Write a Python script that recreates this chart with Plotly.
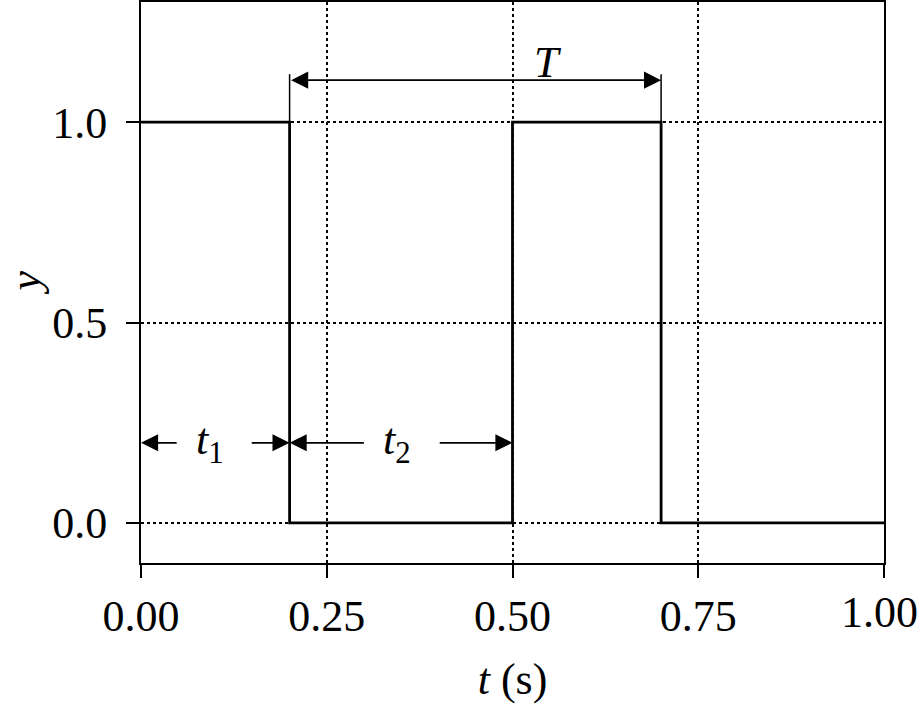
import plotly.graph_objects as go

# Data
t_vals = [0.0, 0.2, 0.2, 0.5, 0.5, 0.7, 0.7, 1.0]
y_vals = [1.0, 1.0, 0.0, 0.0, 1.0, 1.0, 0.0, 0.0]
x_ticks = [0.0, 0.25, 0.5, 0.75, 1.0]
x_tick_labels = ["0.00", "0.25", "0.50", "0.75", "1.00"]
y_ticks = [0.0, 0.5, 1.0]
y_tick_labels = ["0.0", "0.5", "1.0"]
t1_span = [0.0, 0.2]
t2_span = [0.2, 0.5]
T_span = [0.2, 0.7]
t_arrow_y = 0.2
T_arrow_y = 1.105
T_ext_top = 1.12

FONT = "Liberation Serif"
FS = 44

fig = go.Figure()
fig.add_trace(go.Scatter(x=t_vals, y=y_vals, mode="lines",
                         line=dict(color="black", width=2.8), showlegend=False,
                         hoverinfo="skip"))
# extension lines for T
for xe in T_span:
    fig.add_trace(go.Scatter(x=[xe, xe], y=[1.0, T_ext_top], mode="lines",
                             line=dict(color="black", width=1.5), showlegend=False,
                             hoverinfo="skip"))

ann = []
def arrow(x_head, x_tail, y, side="end"):
    ann.append(dict(x=x_head, y=y, ax=x_tail, ay=y, xref="x", yref="y",
                    axref="x", ayref="y", text="", showarrow=True,
                    arrowhead=2, arrowsize=1.9, arrowwidth=1.8, arrowcolor="black",
                    arrowside=side, standoff=0, startstandoff=0))

# t1 arrows (with gap for label)
arrow(t1_span[0], 0.05, t_arrow_y)
arrow(t1_span[1], 0.147, t_arrow_y)
# t2 arrows
arrow(t2_span[0], 0.302, t_arrow_y)
arrow(t2_span[1], 0.40, t_arrow_y)
# T double arrow
arrow(T_span[1], T_span[0], T_arrow_y, side="end+start")

ann.append(dict(x=0.093, y=t_arrow_y, xref="x", yref="y", showarrow=False,
                text="<i>t</i><sub>1</sub>", font=dict(family=FONT, size=FS, color="black")))
ann.append(dict(x=0.345, y=t_arrow_y, xref="x", yref="y", showarrow=False,
                text="<i>t</i><sub>2</sub>", font=dict(family=FONT, size=FS, color="black")))
ann.append(dict(x=0.548, y=1.15, xref="x", yref="y", showarrow=False,
                text="<i>T</i>", font=dict(family=FONT, size=FS, color="black")))

# last x tick label drawn as annotation so it stays inside the canvas
shown_x_labels = x_tick_labels[:-1] + [""]
ann.append(dict(x=x_ticks[-1], y=0, xref="x", yref="paper", yanchor="top",
                xanchor="center", xshift=-5, yshift=-23, showarrow=False,
                text=x_tick_labels[-1], font=dict(family=FONT, size=FS, color="black")))
# y axis title
ann.append(dict(x=0, y=0.5, xref="paper", yref="paper", xanchor="center",
                yanchor="middle", xshift=-116, showarrow=False, textangle=-90,
                text="<i>y</i>", font=dict(family=FONT, size=FS, color="black")))

axis_common = dict(showline=True, linecolor="black", linewidth=2, mirror=True,
                   ticks="outside", ticklen=13, tickwidth=2, tickcolor="black",
                   showgrid=True, gridcolor="black", griddash="dot", gridwidth=2,
                   zeroline=False, automargin=False, ticklabeloverflow="allow",
                   tickfont=dict(family=FONT, size=FS, color="black"))

fig.update_layout(
    width=920, height=704,
    margin=dict(l=141, r=36, t=2, b=141),
    paper_bgcolor="white", plot_bgcolor="white",
    annotations=ann,
    xaxis=dict(range=[0, 1], tickvals=x_ticks, ticktext=shown_x_labels,
               title=dict(text="<i>t</i> (s)", font=dict(family=FONT, size=FS, color="black"),
                          standoff=30),
               **axis_common),
    yaxis=dict(range=[-0.1, 1.3], tickvals=y_ticks, ticktext=y_tick_labels,
               ticklabelstandoff=10,
               **axis_common),
)

fig.write_html("out.html", config={"displayModeBar": False},
               post_script="document.body.style.margin='0';")
